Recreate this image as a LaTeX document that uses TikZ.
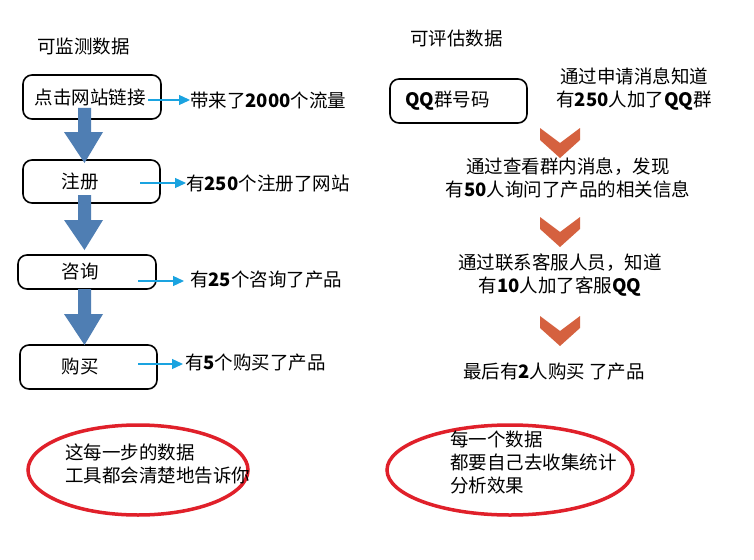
\documentclass[tikz,border=0pt]{standalone}
\usepackage{fontspec}
\setmainfont{Noto Sans CJK SC}
\usetikzlibrary{arrows.meta}
\definecolor{steel}{HTML}{4F7EB3}
\definecolor{rust}{HTML}{D5613F}
\definecolor{sky}{HTML}{1AA3E0}
\definecolor{ered}{HTML}{E0202A}
\begin{document}
\begin{tikzpicture}[x=1pt,y=-1pt,
  box/.style={draw,line width=1.6pt,rounded corners=9pt},
  txt/.style={font=\fontsize{18.5}{23}\selectfont,inner sep=0pt},
  ltx/.style={txt,anchor=west},
  carr/.style={draw=sky,line width=1.3pt,-{Triangle[length=11pt,width=10pt]}},
  barr/.style={fill=steel,draw=none},
  chev/.style={fill=rust,draw=none},
  ell/.style={draw=ered,line width=3.5pt}]
\useasboundingbox (0,0) rectangle (754,559);
\fill[white] (0,0) rectangle (754,559);
\node[ltx] (t1) at (37,46) {可监测数据};
\node[ltx] (t2) at (410,38) {可评估数据};
% left boxes
\draw[box] (23,75) rectangle (161,119); \node[txt] (b1) at (90,97) {点击网站链接};
\draw[box] (23,160) rectangle (160,203); \node[txt] (b2) at (80,181) {注册};
\draw[box] (18,255) rectangle (156,289); \node[txt] (b3) at (80,272) {咨询};
\draw[box] (20,345) rectangle (157,389); \node[txt] (b4) at (80,366) {购买};
% blue block arrows
\foreach \a/\b/\c in {108/132/163, 195/220/250, 289/314/345}{
  \fill[barr] (78,\a) -- (91,\a) -- (91,\b) -- (103,\b) -- (84.5,\c) -- (64,\b) -- (78,\b) -- cycle;}
% right texts
\node[ltx] (r1) at (190,100) {带来了\textbf{2000}个流量};
\node[ltx] (r2) at (186,183) {有\textbf{250}个注册了网站};
\node[ltx] (r3) at (190,280) {有\textbf{25}个咨询了产品};
\node[ltx] (r4) at (185,363) {有\textbf{5}个购买了产品};
\coordinate (s1) at (148,100); \coordinate (s2) at (140,183); \coordinate (s3) at (138,281); \coordinate (s4) at (138,364);
\draw[carr] (s1) -- (s1 -| r1.west);
\draw[carr] (s2) -- (s2 -| r2.west);
\draw[carr] (s3) -- ([xshift=-6pt]s3 -| r3.west);
\draw[carr] (s4) -- ([xshift=-2pt]s4 -| r4.west);
% right column
\draw[box] (390,79) rectangle (527,123);
\node[ltx] (q) at (405,101) {\textbf{QQ}群号码};
\node[txt,align=center] (n1) at (634,89) {通过申请消息知道\\有\textbf{250}人加了\textbf{QQ}群};
\node[txt,align=center] (n2) at (568,178) {通过查看群内消息，发现\\有\textbf{50}人询问了产品的相关信息};
\node[txt,align=center] (n3) at (560,275) {通过联系客服人员，知道\\有\textbf{10}人加了客服\textbf{QQ}};
\node[txt] (n4) at (554,372) {最后有\textbf{2}人购买 了产品};
\foreach \y in {128,217,316}{
  \fill[chev] (540,\y) -- (560,\y+15) -- (580,\y) -- (580,\y+12) -- (560,\y+30) -- (540,\y+12) -- cycle;}
% ellipses
\draw[ell] (138,470) ellipse (110 and 45);
\draw[ell] (510,470) ellipse (123 and 45);
\node[txt,anchor=west,align=left] (e1) at (65,464) {这每一步的数据\\工具都会清楚地告诉你};
\node[txt,anchor=west,align=left] (e2) at (450,462) {每一个数据\\都要自己去收集统计\\分析效果};
\end{tikzpicture}
\end{document}
